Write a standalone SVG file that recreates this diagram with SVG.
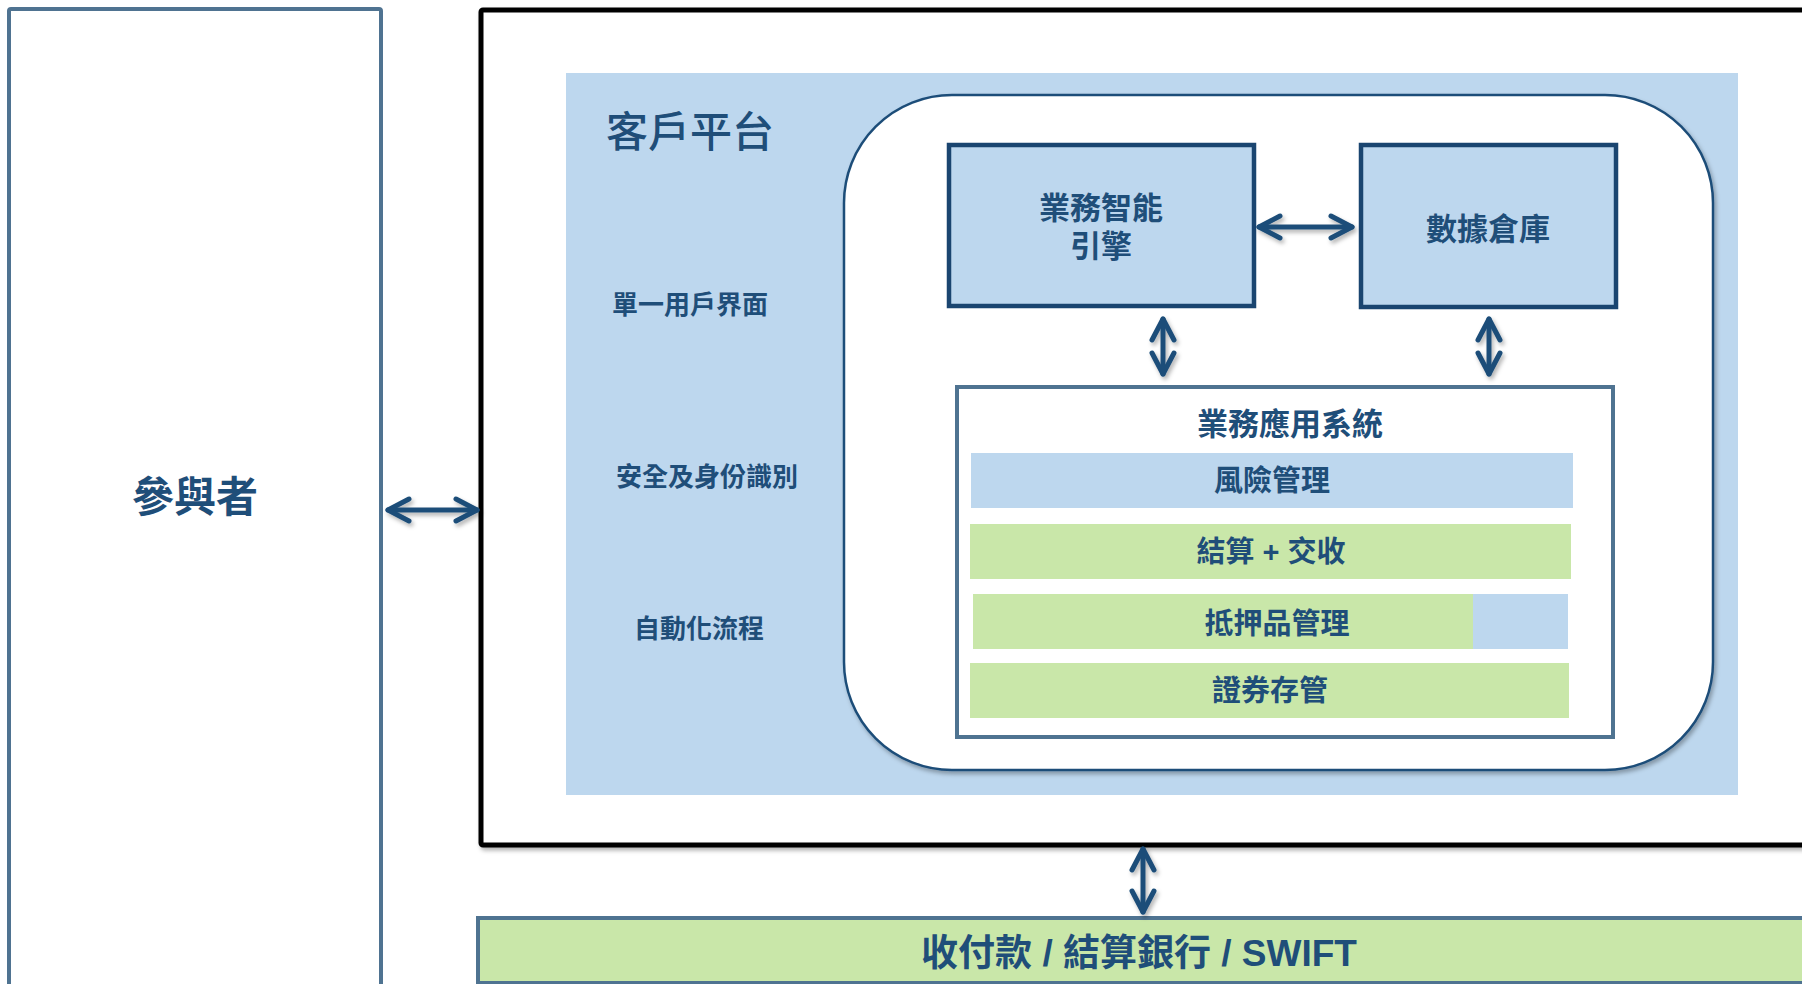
<svg xmlns="http://www.w3.org/2000/svg" width="1802" height="984" viewBox="0 0 1802 984">
<style>
.t{font-family:"Liberation Sans","Noto Sans CJK TC",sans-serif;fill:#1F4E79;text-anchor:middle}
.b{font-weight:bold}
.m{font-weight:500}
.s{font-weight:600}
.conn{fill:none;stroke:#1F4E79;stroke-width:5;stroke-linecap:round;marker-start:url(#chev);marker-end:url(#chev)}
.blue{fill:#BDD7EE}
.green{fill:#C9E7A9}
</style>
<defs>
<filter id="sh" x="-10%" y="-10%" width="130%" height="130%">
<feDropShadow dx="2" dy="3" stdDeviation="2" flood-color="#000" flood-opacity="0.3"/>
</filter>
<marker id="chev" markerUnits="userSpaceOnUse" viewBox="-26 -16 32 32" markerWidth="32" markerHeight="32" refX="0" refY="0" orient="auto-start-reverse">
<path d="M-21,-11 L0,0 L-21,11" fill="none" stroke="#1F4E79" stroke-width="5" stroke-linecap="round" stroke-linejoin="round"/>
</marker>
</defs>
<rect width="1802" height="984" fill="#fff"/>

<g id="participant">
<rect x="9" y="9" width="372" height="1000" rx="2" fill="#fff" stroke="#4F7391" stroke-width="4"/>
<text class="t b" x="195" y="512" font-size="42">參與者</text>
</g>

<g id="system-frame">
<rect x="481" y="10" width="1400" height="835" rx="2" fill="#fff" stroke="#000" stroke-width="5" filter="url(#sh)"/>
</g>

<g id="client-platform">
<rect x="566" y="73" width="1172" height="722" class="blue"/>
<text class="t m" x="690" y="147" font-size="42">客戶平台</text>
<text class="t b" x="690" y="314" font-size="26">單一用戶界面</text>
<text class="t b" x="707" y="486" font-size="26">安全及身份識別</text>
<text class="t b" x="699" y="638" font-size="26">自動化流程</text>
</g>

<g id="core">
<rect x="844" y="95" width="869" height="675" rx="108" fill="#fff" stroke="#1F4E79" stroke-width="2.5" filter="url(#sh)"/>
</g>

<g id="bi-engine">
<rect x="949" y="145" width="305" height="161" class="blue" stroke="#1A4570" stroke-width="4.5"/>
<text class="t s" x="1101" y="219" font-size="31">業務智能</text>
<text class="t s" x="1101" y="257" font-size="31">引擎</text>
</g>

<g id="data-warehouse">
<rect x="1361" y="145" width="255" height="162" class="blue" stroke="#1A4570" stroke-width="4.5"/>
<text class="t b" x="1488" y="240" font-size="31">數據倉庫</text>
</g>

<g id="business-apps">
<rect x="957" y="387" width="656" height="350" fill="#fff" stroke="#4F7391" stroke-width="4"/>
<text class="t b" x="1290" y="435" font-size="31">業務應用系統</text>
</g>

<g id="risk-mgmt">
<rect x="971" y="453" width="602" height="55" class="blue"/>
<text class="t b" x="1272" y="491" font-size="29">風險管理</text>
</g>

<g id="clearing-settlement">
<rect x="970" y="524" width="601" height="55" class="green"/>
<text class="t b" x="1271" y="562" font-size="29">結算 + 交收</text>
</g>

<g id="collateral-mgmt">
<rect x="973" y="594" width="500" height="55" class="green"/>
<rect x="1473" y="594" width="95" height="55" class="blue"/>
<text class="t b" x="1277" y="634" font-size="29">抵押品管理</text>
</g>

<g id="custody">
<rect x="970" y="663" width="599" height="55" class="green"/>
<text class="t b" x="1270" y="701" font-size="29">證券存管</text>
</g>

<g id="payment-bar">
<rect x="478" y="918" width="1400" height="65" class="green" stroke="#4F7391" stroke-width="4"/>
<text class="t b" x="1139" y="966" font-size="37">收付款 / 結算銀行 / SWIFT</text>
</g>

<g id="connectors" filter="url(#sh)">
<line class="conn" x1="388" y1="510" x2="477" y2="510"/>
<line class="conn" x1="1259" y1="227" x2="1352" y2="227"/>
<line class="conn" x1="1163" y1="319" x2="1163" y2="374"/>
<line class="conn" x1="1489" y1="319" x2="1489" y2="374"/>
<line class="conn" x1="1143" y1="849" x2="1143" y2="912"/>
</g>
</svg>
